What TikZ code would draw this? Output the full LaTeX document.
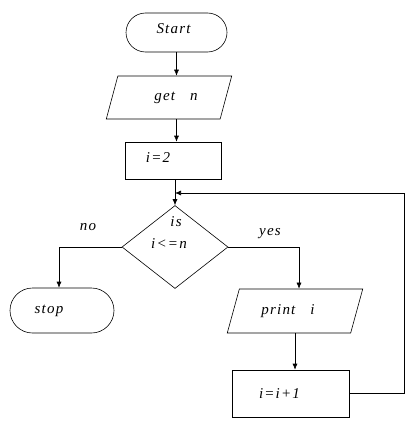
\documentclass[tikz,border=0pt]{standalone}
\usepackage{fontspec}
\newfontfamily\flowfont[LetterSpace=8]{Liberation Serif}
\usepackage{tikz}
\usetikzlibrary{shapes.geometric,shapes.misc,arrows.meta}

\begin{document}
\begin{tikzpicture}[x=1pt,y=-1pt,
    every node/.style={font=\flowfont\itshape\fontsize{15}{17}\selectfont},
    terminal/.style={draw, rounded rectangle, line width=0.6pt, inner sep=0pt},
    inout/.style={draw, trapezium, trapezium left angle=61, trapezium right angle=119,
        trapezium stretches=true, line width=0.6pt, inner sep=0pt},
    process/.style={draw, rectangle, line width=0.6pt, inner sep=0pt},
    decision/.style={draw, diamond, line width=0.6pt, inner sep=0pt, align=center},
    flow/.style={line width=0.6pt, -{Latex[length=6pt,width=5pt]}},
    ]
                    % Page frame
                    \useasboundingbox (0,0) rectangle (414,428);
                    
                    % Main column of the chart
                    \node[terminal, minimum width=101pt, minimum height=39pt] (start) at (176.5,32.5) {\raisebox{7pt}{Start}\kern6pt};
                    \node[inout, minimum width=126pt, minimum height=43pt] (getn) at (169,97.5) {\kern14pt get\quad n};
                    \node[process, minimum width=96pt, minimum height=37pt] (init) at (173,160.5) {\raisebox{5pt}{i=2}\kern30pt};
                    \node[decision, minimum width=106pt, minimum height=83pt] (cond) at (175,247) {};
                    \node (condtop) at (176,222) {is};
                    \node (condbot) at (169,244) {i\textless=n};
                    
                    % Left branch
                    \node[terminal, minimum width=104pt, minimum height=45pt] (stop) at (62,310.5) {stop\kern26pt};
                    \node (nolabel) at (88,227) {no};
                    
                    % Right branch
                    \node[inout, minimum width=136pt, minimum height=44pt] (print) at (295,311) {print\quad i\kern14pt};
                    \node[process, minimum width=117pt, minimum height=47pt] (incr) at (290.5,393.5) {i=i+1\kern22pt};
                    \node (yeslabel) at (270,234) {yes};
                    
                    % Connectors
                    \draw[flow] (start.south) -- (start.south |- getn.north);
                    \draw[flow] (start.south |- getn.south) -- (start.south |- init.north);
                    \draw[flow] (cond.north |- init.south) -- (cond.north);
                    \draw[flow] (cond.west) -| ([xshift=-3pt]stop.north);
                    \draw[flow] (cond.east) -| ([xshift=4pt]print.north);
                    \draw[flow] (print.south) -- (print.south |- incr.north);
                    
                    % Loop back to the test
                    \coordinate (back) at (404,193);
                    \draw[flow] (incr.east) -| (back) -- (back -| cond.north);
                \end{tikzpicture}
\end{document}
